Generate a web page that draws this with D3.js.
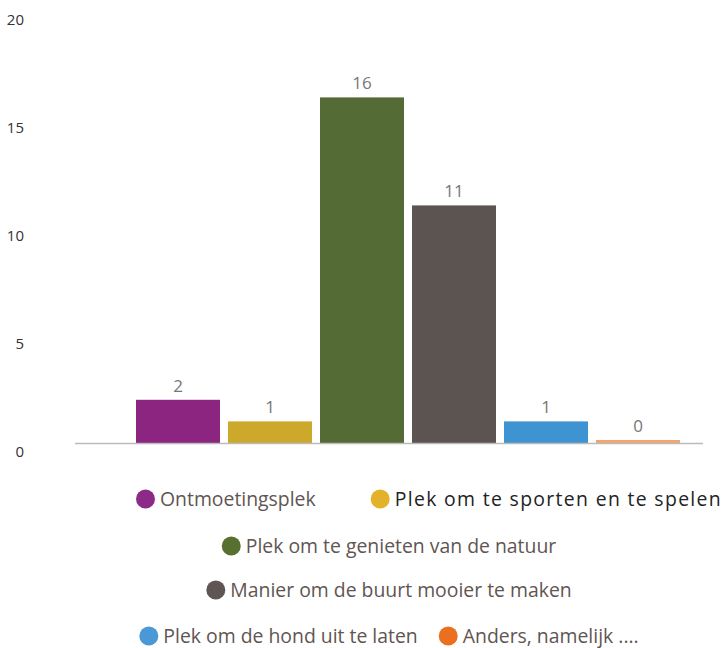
<!DOCTYPE html>
<html>
<head>
<meta charset="utf-8">
<script src="https://cdn.jsdelivr.net/npm/d3@7"></script>
<style>
  body { margin: 0; background: #fff; }
  svg { display: block; }
</style>
</head>
<body>
<div id="chart"></div>
<script>
// data
const categories = ["Ontmoetingsplek", "Plek om te sporten en te spelen", "Plek om te genieten van de natuur",
    "Manier om de buurt mooier te maken", "Plek om de hond uit te laten", "Anders, namelijk ...."];
const values = [2, 1, 16, 11, 1, 0];
const barColors = ["#8b2580", "#cda92b", "#556b35", "#5b5450", "#3e93d1", "#f4a46c"];
const legendColors = ["#8b2a87", "#e2b22b", "#58702f", "#5f5552", "#4a98d6", "#ea7020"];
const yTicks = [0, 5, 10, 15, 20];
// which legend item sits on which row
const legendRows = [[0, 1], [2], [3], [4, 5]];

const width = 725, height = 648;
const svg = d3.select("#chart").append("svg")
    .attr("width", width)
    .attr("height", height);

let y = d3.scaleLinear().domain([0, 20]).range([443, 11]);
let x = d3.scaleBand().domain(categories).range([136, 680]).paddingInner(0.087).paddingOuter(0);

// y labels (drawn a bit below their tick)
svg.append("g").selectAll("text")
    .data(yTicks)
    .enter().append("text")
    .attr("x", 24)
    .attr("y", d => y(d) + 14)
    .attr("text-anchor", "end")
    .attr("font-family", "Open Sans, sans-serif")
    .attr("font-size", 15)
    .attr("fill", "#333")
    .text(d => d);

// bars
svg.append("g").selectAll("rect")
    .data(values)
    .enter().append("rect")
    .attr("x", (d, i) => x(categories[i]))
    .attr("width", x.bandwidth())
    .attr("y", d => Math.min(y(d), y(0) - 3))
    .attr("height", d => Math.max(y(0) - y(d), 3))
    .attr("fill", (d, i) => barColors[i]);

// value labels
svg.append("g").selectAll("text")
    .data(values)
    .enter().append("text")
    .attr("x", (d, i) => x(categories[i]) + x.bandwidth() / 2)
    .attr("y", d => Math.min(y(d), y(0) - 3) - 8)
    .attr("text-anchor", "middle")
    .attr("font-family", "Open Sans, sans-serif")
    .attr("font-size", 17)
    .attr("fill", "#777")
    .text(d => d);

// baseline
svg.append("line")
    .attr("x1", 75).attr("x2", 703)
    .attr("y1", y(0) + 0.5).attr("y2", y(0) + 0.5)
    .attr("stroke", "#bbb")
    .attr("stroke-width", 1.5);

// legend
const rowY = [499, 546, 590, 636];
const rowGap = [55, 0, 0, 21];
const legend = svg.append("g").attr("font-family", "Open Sans, sans-serif").attr("font-size", 19.4);
legendRows.forEach((row, r) => {
    let g = legend.append("g");
    let cx = 0;
    row.forEach((i, k) => {
        let item = g.append("g").attr("transform", "translate(" + cx + ",0)");
        item.append("circle").attr("cx", 9.5).attr("cy", rowY[r]).attr("r", 9.5).attr("fill", legendColors[i]);
        let t = item.append("text")
            .attr("x", 24)
            .attr("y", rowY[r] + 7)
            .attr("fill", "#5f5552")
            .text(categories[i]);
        // the hovered item is shown darker and wider
        if (i == 1) t.attr("fill", "#222").attr("textLength", 326).attr("lengthAdjust", "spacing");
        cx += 24 + t.node().getComputedTextLength() + rowGap[r];
    });
    let w = cx - rowGap[r];
    let start = Math.max(136, 389 - w / 2);
    g.attr("transform", "translate(" + start + ",0)");
});
</script>
</body>
</html>
